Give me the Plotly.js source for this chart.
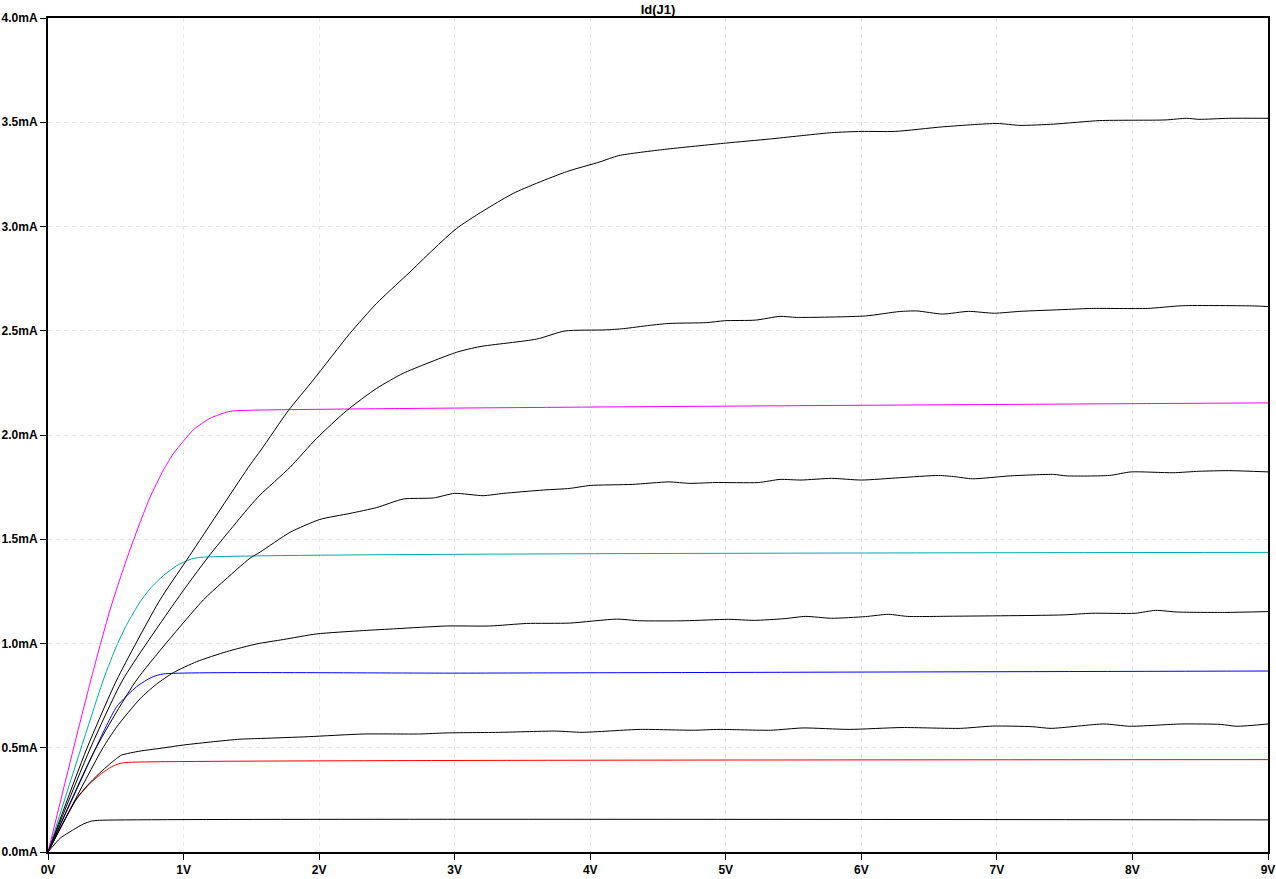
<!DOCTYPE html>
<html>
<head>
<meta charset="utf-8">
<script src="https://cdn.plot.ly/plotly-3.0.1.min.js"></script>
<style>html,body{margin:0;padding:0;background:#fff;}#chart{width:1276px;height:879px;}</style>
</head>
<body>
<div id="chart"></div>
<script>
// X ticks (V) and Y ticks (mA)
const xTickVals = [0,1,2,3,4,5,6,7,8,9];
const xTickText = ["0V","1V","2V","3V","4V","5V","6V","7V","8V","9V"];
const yTickVals = [0,0.5,1,1.5,2,2.5,3,3.5,4];
const yTickText = ["0.0mA","0.5mA","1.0mA","1.5mA","2.0mA","2.5mA","3.0mA","3.5mA","4.0mA"];

// Curve 1 (black, lowest)
const v1 = [0,0.09,0.19,0.26,0.32,0.38,9];
const i1 = [0,0.066,0.108,0.134,0.148,0.152,0.154];
// Curve 2 (red)
const v2 = [0,0.21,0.31,0.396,0.47,0.531,0.593,9];
const i2 = [0,0.253,0.329,0.377,0.409,0.425,0.430,0.443];
// Curve 3 (black)
const v3 = [0,0.21,0.31,0.40,0.47,0.507,0.543,0.679,0.826,0.998,1.22,1.416,1.586,1.92,2.33,2.74,2.93,3.34,3.75,3.94,4.37,4.76,4.95,5.33,5.57,5.91,6.30,6.73,6.97,7.26,7.40,7.79,7.98,8.36,8.65,8.77,9.0];
const i3 = [0,0.255,0.333,0.39,0.43,0.449,0.465,0.484,0.497,0.513,0.529,0.541,0.545,0.553,0.566,0.566,0.571,0.574,0.580,0.574,0.588,0.584,0.588,0.584,0.595,0.588,0.597,0.593,0.604,0.601,0.593,0.614,0.603,0.614,0.612,0.603,0.614];
// Curve 4 (blue)
const v4 = [0,0.187,0.334,0.507,0.654,0.728,0.777,0.85,3.1,9];
const i4 = [0,0.265,0.473,0.697,0.793,0.825,0.841,0.854,0.858,0.868];
// Curve 5 (black)
const v5 = [0,0.40,0.507,0.679,0.80,0.924,1.097,1.318,1.54,1.736,1.982,2.326,2.572,2.94,3.26,3.53,3.85,4.195,4.367,4.70,5.02,5.21,5.43,5.59,5.78,6.03,6.2,6.34,6.69,7.48,7.70,8.02,8.17,8.33,8.68,9.0];
const i5 = [0,0.494,0.60,0.735,0.805,0.860,0.913,0.961,0.998,1.019,1.046,1.062,1.071,1.084,1.084,1.096,1.098,1.117,1.109,1.109,1.116,1.111,1.119,1.130,1.121,1.129,1.140,1.130,1.131,1.137,1.145,1.145,1.159,1.151,1.149,1.153];
// Curve 6 (cyan)
const v6 = [0,0.408,0.507,0.58,0.68,0.752,0.85,0.949,1.047,1.121,9];
const i6 = [0,0.825,0.99,1.09,1.20,1.262,1.325,1.373,1.403,1.413,1.437];
// Curve 7 (black)
const v7 = [0,0.35,0.654,1.146,1.28,1.49,1.564,1.785,2.006,2.228,2.425,2.621,2.843,3.0,3.21,3.359,3.654,3.85,4.0,4.31,4.58,4.735,4.92,5.24,5.40,5.555,5.78,6.0,6.28,6.57,6.69,6.82,7.10,7.42,7.51,7.83,7.99,8.30,8.49,8.71,9.0];
const i7 = [0,0.494,0.825,1.209,1.29,1.409,1.438,1.533,1.595,1.624,1.652,1.693,1.698,1.720,1.709,1.72,1.736,1.744,1.758,1.763,1.775,1.768,1.772,1.772,1.787,1.784,1.792,1.784,1.795,1.806,1.80,1.79,1.804,1.811,1.804,1.806,1.823,1.819,1.826,1.829,1.823];
// Curve 8 (magenta)
const v8 = [0,0.187,0.31,0.384,0.457,0.531,0.605,0.679,0.752,0.85,0.924,0.998,1.072,1.195,1.33,1.4,9];
const i8 = [0,0.494,0.81,0.99,1.16,1.31,1.45,1.58,1.70,1.83,1.91,1.97,2.025,2.08,2.112,2.117,2.154];
// Curve 9 (black)
const v9 = [0,0.31,0.551,0.949,1.183,1.49,1.564,1.785,1.982,2.203,2.425,2.621,3.015,3.187,3.605,3.814,4.109,4.244,4.44,4.58,4.86,4.99,5.22,5.40,5.52,6.03,6.28,6.41,6.60,6.79,6.98,7.17,7.51,7.70,8.11,8.37,8.90,9.0];
const i9 = [0,0.494,0.825,1.209,1.416,1.659,1.712,1.845,1.984,2.117,2.224,2.296,2.397,2.424,2.460,2.499,2.504,2.510,2.526,2.535,2.539,2.548,2.551,2.569,2.564,2.571,2.592,2.595,2.580,2.593,2.584,2.593,2.602,2.607,2.607,2.620,2.619,2.616];
// Curve 10 (black, top)
const v10 = [0,0.285,0.507,0.826,1.023,1.49,1.571,1.773,1.957,2.228,2.425,2.646,3.015,3.433,3.826,4.072,4.21,4.55,5.0,5.33,5.78,6.0,6.25,6.6,7.0,7.17,7.42,7.76,8.24,8.4,8.49,8.71,9.0];
const i10 = [0,0.494,0.825,1.209,1.40,1.856,1.928,2.117,2.264,2.488,2.632,2.767,2.991,3.159,3.263,3.31,3.34,3.37,3.40,3.42,3.45,3.456,3.456,3.478,3.494,3.485,3.491,3.508,3.511,3.519,3.514,3.519,3.519];

const curves = [
  [v1,i1,"#000000"],[v2,i2,"#ff0000"],[v3,i3,"#000000"],[v4,i4,"#0000ff"],
  [v5,i5,"#000000"],[v6,i6,"#00aaaa"],[v7,i7,"#000000"],[v8,i8,"#ff00ff"],
  [v9,i9,"#000000"],[v10,i10,"#000000"]
];
const traces = curves.map(c => ({
  x: c[0], y: c[1], type: "scatter", mode: "lines",
  line: {color: c[2], width: 1, shape: "spline", smoothing: 0.6}, hoverinfo: "skip", showlegend: false
}));

const fontFam = "Liberation Sans, Arial, sans-serif";
const axisCommon = {
  showline: true, linecolor: "#000", linewidth: 2, mirror: true,
  ticks: "outside", ticklen: 6, tickwidth: 1, tickcolor: "#000",
  showgrid: true, gridcolor: "#e6e6e6", griddash: "4px,4px", gridwidth: 1,
  zeroline: false, fixedrange: true,
  tickfont: {family: fontFam, size: 12, color: "#000", weight: "bold"}
};
const layout = {
  width: 1276, height: 879,
  margin: {l: 48, r: 8, t: 18, b: 27, pad: 0},
  paper_bgcolor: "#fff", plot_bgcolor: "#fff",
  showlegend: false,
  title: {text: "Id(J1)", x: 0.5157, xanchor: "center", y: 1 - 9/879, yanchor: "middle",
          yref: "container", font: {family: fontFam, size: 13, color: "#000", weight: "bold"}},
  xaxis: Object.assign({}, axisCommon, {range: [0, 9], tickvals: xTickVals, ticktext: xTickText}),
  yaxis: Object.assign({}, axisCommon, {range: [0, 4], tickvals: yTickVals, ticktext: yTickText, ticklabelstandoff: 0})
};
Plotly.newPlot("chart", traces, layout, {staticPlot: true, displayModeBar: false});
</script>
</body>
</html>
